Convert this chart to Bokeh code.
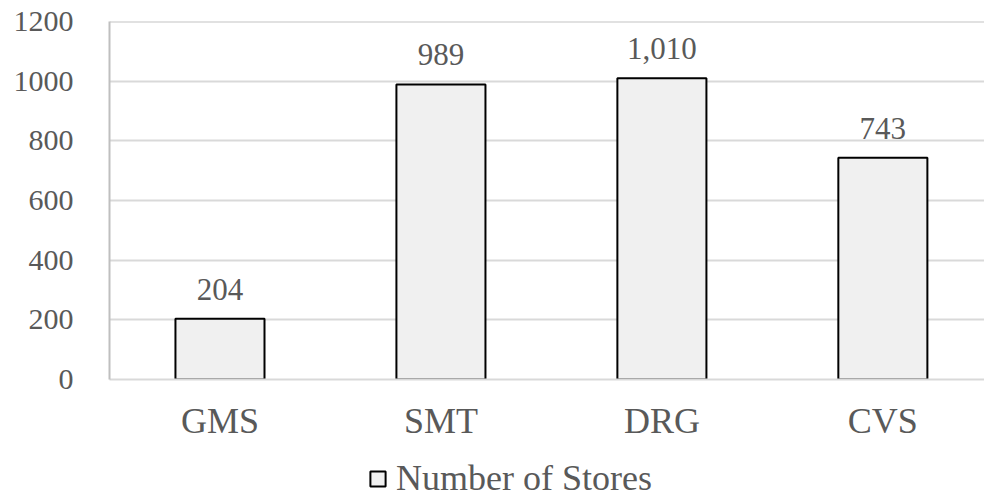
from bokeh.plotting import figure
from bokeh.layouts import column
from bokeh.models import (ColumnDataSource, Range1d, FixedTicker, LabelSet,
                          Legend, LegendItem, Span)
from bokeh.embed import file_html
from bokeh.resources import INLINE

# Store counts by format
categories = ["GMS", "SMT", "DRG", "CVS"]
stores = [204, 989, 1010, 743]
y_ticks = [0, 200, 400, 600, 800, 1000, 1200]
series_name = "Number of Stores"

FONT = "Liberation Serif"
TEXT = "#595959"
BAR_STYLE = dict(fill_color="#f0f0f0", line_color="black", line_width=2)

x = [i + 0.5 for i in range(len(categories))]
src = ColumnDataSource(dict(x=x, top=stores, label=[f"{v:,}" for v in stores]))

# ---- main bar chart ----
p = figure(frame_width=875, frame_height=358, output_backend="svg",
           toolbar_location=None,
           x_range=Range1d(0, 3.96), y_range=Range1d(y_ticks[0], y_ticks[-1]),
           min_border_left=109, min_border_right=0, min_border_top=21,
           min_border_bottom=70)
p.outline_line_color = None
p.background_fill_color = "white"
p.border_fill_color = "white"

p.xgrid.grid_line_color = None
p.ygrid.grid_line_color = "#d9d9d9"
p.ygrid.grid_line_width = 2
# slightly darker rule along the top of the plot area
p.add_layout(Span(location=y_ticks[-1], dimension="width",
                  line_color="#c4c4c4", line_width=2))

bars = p.vbar(x="x", top="top", width=0.403, source=src, **BAR_STYLE)

# value labels above bars, on a white patch
labels = LabelSet(x="x", y="top", text="label", source=src,
                  text_align="center", text_baseline="alphabetic", y_offset=19,
                  text_font=FONT, text_font_size="31px", text_color=TEXT,
                  background_fill_color="white")
p.add_layout(labels)

p.xaxis.ticker = FixedTicker(ticks=x)
p.xaxis.major_label_overrides = {v: c for v, c in zip(x, categories)}
p.xaxis.major_label_text_font = FONT
p.xaxis.major_label_text_font_size = "36px"
p.xaxis.major_label_text_color = TEXT
p.xaxis.major_label_standoff = 21
p.xaxis.axis_line_color = "#d9d9d9"
p.xaxis.axis_line_width = 2
p.xaxis.major_tick_line_color = None
p.xaxis.minor_tick_line_color = None
p.xaxis.major_tick_out = 0
p.xaxis.major_tick_in = 0

p.yaxis.ticker = FixedTicker(ticks=y_ticks)
p.yaxis.major_label_text_font = FONT
p.yaxis.major_label_text_font_size = "30px"
p.yaxis.major_label_text_color = TEXT
p.yaxis.major_label_standoff = 30
p.yaxis.axis_line_color = "#bfbfbf"
p.yaxis.axis_line_width = 2
p.yaxis.major_tick_line_color = None
p.yaxis.minor_tick_line_color = None

# ---- legend strip underneath (frame is aligned with the chart above) ----
q = figure(width=984, height=48, output_backend="svg", toolbar_location=None,
           x_range=Range1d(0, 1), y_range=Range1d(0, 1),
           x_axis_location=None, y_axis_location=None,
           min_border=0)
q.outline_line_color = None
q.grid.grid_line_color = None
q.border_fill_color = "white"
# hidden copy of the bar series, used only for the legend swatch
key = q.vbar(x="x", top="top", width=0.403, source=src, visible=False,
             **BAR_STYLE)

legend = Legend(items=[LegendItem(label=series_name, renderers=[key])],
                orientation="horizontal", location=(259, -2),
                label_text_font=FONT, label_text_font_size="36px",
                label_text_color=TEXT, glyph_width=19, glyph_height=19,
                label_height=36, label_standoff=9, padding=0, margin=0,
                border_line_color=None, background_fill_alpha=0, spacing=0)
q.add_layout(legend)

layout = column(p, q, spacing=0)
open("out.html", "w").write(file_html(layout, INLINE))
